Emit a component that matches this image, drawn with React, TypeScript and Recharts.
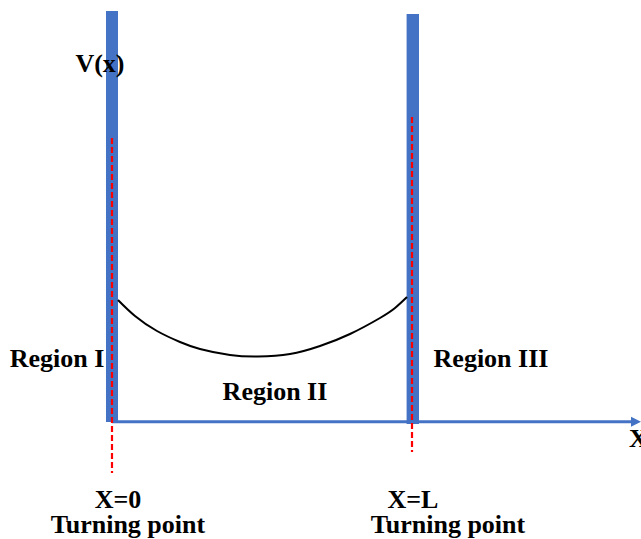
import React from 'react';
import { ComposedChart, Line, XAxis, YAxis, ReferenceArea, ReferenceLine, ReferenceDot } from 'recharts';

// Units: x in units of well width L (X=0 .. X=L=1); V in arbitrary energy units
const curveX = [0.02, 0.0767, 0.15, 0.2267, 0.2933, 0.3933, 0.4867, 0.5933, 0.6933, 0.7933, 0.8933, 0.9433, 0.9833];
const curveV = [1.215, 1.055, 0.905, 0.795, 0.725, 0.665, 0.65, 0.675, 0.755, 0.875, 1.035, 1.135, 1.245];

// walls: [x1, x2, vBottom, vTop]
const leftWall = [-0.02, 0.02, -0.005, 4.105];
const rightWall = [0.982, 1.0233, -0.025, 4.075];

// turning point markers: [x, vTop, vBottom]
const leftTurn = [0, 2.835, -0.515];
const rightTurn = [1.0, 3.045, -0.305];

// x axis: [xStart, xEnd, v]
const xAxisLine = [0, 1.7633, -0.002];

const labelTexts = ['V(x)', 'Region I', 'Region II', 'Region III', 'X=0', 'Turning point', 'X=L', 'Turning point', 'X'];
const labelX = [-0.04, -0.1833, 0.5433, 1.2633, 0.02, 0.0533, 1.0033, 1.12, 1.755];
const labelV = [3.495, 0.55, 0.22, 0.55, -0.86, -1.11, -0.86, -1.11, -0.255];

const xDomain = [-0.3733, 1.7633];
const vDomain = [-1.175, 4.215];

const data = curveX.map((x, i) => ({ x, v: curveV[i] }));

const BLUE = '#4472C4';
const FONT = '"Liberation Serif", "Times New Roman", serif';

const ArrowLine = (props: any) => {
  const { x1, y1, x2, y2 } = props;
  const head = 10;
  return (
    <g>
      <line x1={x1} y1={y1} x2={x2 - head + 1} y2={y2} stroke={BLUE} strokeWidth={3} />
      <polygon points={`${x2 - head},${y2 - 5} ${x2},${y2} ${x2 - head},${y2 + 5}`} fill={BLUE} />
    </g>
  );
};

const makeText = (text: string) => (props: any) => (
  <text
    x={props.cx}
    y={props.cy}
    textAnchor="middle"
    fontFamily={FONT}
    fontWeight="bold"
    fontSize={26}
    fill="#000"
  >
    {text}
  </text>
);

export default function App() {
  return (
    <div style={{ position: 'absolute', left: 0, top: 0, background: '#fff' }}>
      <ComposedChart width={641} height={539} data={data} margin={{ top: 0, right: 0, bottom: 0, left: 0 }}>
        <XAxis dataKey="x" type="number" domain={xDomain} allowDataOverflow hide />
        <YAxis type="number" domain={vDomain} allowDataOverflow hide />
        <ReferenceArea x1={leftWall[0]} x2={leftWall[1]} y1={leftWall[2]} y2={leftWall[3]} fill={BLUE} fillOpacity={1} stroke="none" />
        <ReferenceArea x1={rightWall[0]} x2={rightWall[1]} y1={rightWall[2]} y2={rightWall[3]} fill={BLUE} fillOpacity={1} stroke="none" />
        <ReferenceLine
          segment={[{ x: xAxisLine[0], y: xAxisLine[2] }, { x: xAxisLine[1], y: xAxisLine[2] }]}
          shape={ArrowLine}
          ifOverflow="visible"
        />
        <ReferenceLine
          segment={[{ x: leftTurn[0], y: leftTurn[1] }, { x: leftTurn[0], y: leftTurn[2] }]}
          stroke="#FF0000"
          strokeWidth={2.2}
          strokeDasharray="6 3"
        />
        <ReferenceLine
          segment={[{ x: rightTurn[0], y: rightTurn[1] }, { x: rightTurn[0], y: rightTurn[2] }]}
          stroke="#FF0000"
          strokeWidth={2.2}
          strokeDasharray="6 3"
        />
        <Line dataKey="v" type="natural" stroke="#000" strokeWidth={2} dot={false} activeDot={false} isAnimationActive={false} />
        {labelTexts.map((t, i) => (
          <ReferenceDot key={i} x={labelX[i]} y={labelV[i]} r={0} fill="none" stroke="none" shape={makeText(t)} ifOverflow="visible" />
        ))}
      </ComposedChart>
    </div>
  );
}
